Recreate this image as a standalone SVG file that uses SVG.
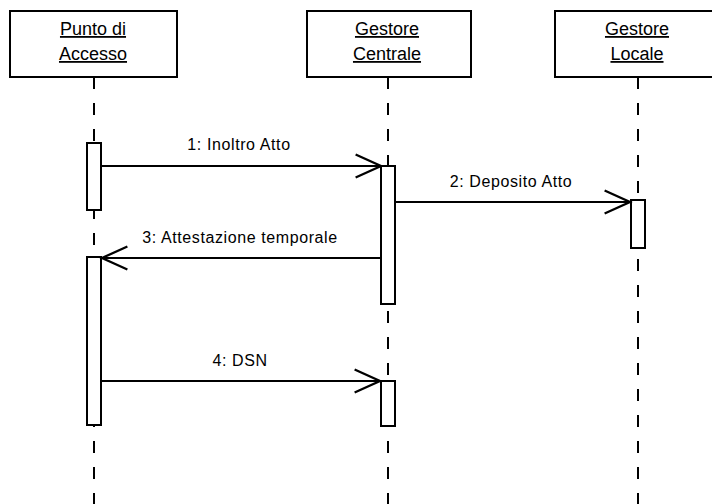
<svg xmlns="http://www.w3.org/2000/svg" width="712" height="504" viewBox="0 0 712 504">
  <style>
    .obj { fill: #fff; stroke: #000; stroke-width: 2; }
    .act { fill: #fff; stroke: #000; stroke-width: 2; }
    .life { stroke: #000; stroke-width: 2; stroke-dasharray: 12 14; fill: none; }
    .msg { stroke: #000; stroke-width: 2; fill: none; marker-end: url(#open); }
    .name { font-family: "Liberation Sans", Arial, sans-serif; font-size: 18px; text-anchor: middle; text-decoration: underline; fill: #000; }
    .lbl { font-family: "Liberation Sans", Arial, sans-serif; font-size: 16px; letter-spacing: 0.6px; text-anchor: middle; fill: #000; }
  </style>
  <defs>
    <marker id="open" markerUnits="userSpaceOnUse" markerWidth="30" markerHeight="30" viewBox="-24 -12 26 24" refX="0" refY="0" orient="auto" overflow="visible">
      <path d="M-22,-10 L0,0 L-22,10" fill="none" stroke="#000" stroke-width="2"/>
    </marker>
  </defs>
  <rect width="712" height="504" fill="#fff"/>

  <!-- lifelines -->
  <g id="lifelines">
    <line class="life" x1="94" y1="77" x2="94" y2="504"/>
    <line class="life" x1="388" y1="77" x2="388" y2="504"/>
    <line class="life" x1="638" y1="77" x2="638" y2="504"/>
  </g>

  <!-- participants -->
  <g id="punto-di-accesso">
    <rect class="obj" x="10" y="11" width="167" height="66"/>
    <text class="name" x="93" y="35">Punto di</text>
    <text class="name" x="93" y="60">Accesso</text>
    <rect class="act" x="87" y="143" width="14" height="67"/>
    <rect class="act" x="87" y="257" width="14" height="168"/>
  </g>
  <g id="gestore-centrale">
    <rect class="obj" x="307" y="11" width="164" height="66"/>
    <text class="name" x="387" y="35">Gestore</text>
    <text class="name" x="387" y="60">Centrale</text>
    <rect class="act" x="381" y="166" width="14" height="138"/>
    <rect class="act" x="381" y="381" width="14" height="45"/>
  </g>
  <g id="gestore-locale">
    <rect class="obj" x="555" y="11" width="166" height="66"/>
    <text class="name" x="637" y="35">Gestore</text>
    <text class="name" x="637" y="60">Locale</text>
    <rect class="act" x="631" y="200" width="14" height="48"/>
  </g>

  <!-- messages -->
  <g id="connectors">
    <line class="msg" x1="101" y1="166" x2="381" y2="166"/>
    <text class="lbl" x="239" y="150">1: Inoltro Atto</text>
    <line class="msg" x1="395" y1="202" x2="630" y2="202"/>
    <text class="lbl" x="511" y="187">2: Deposito Atto</text>
    <line class="msg" x1="381" y1="258" x2="102" y2="258"/>
    <text class="lbl" x="240" y="243">3: Attestazione temporale</text>
    <line class="msg" x1="101" y1="381" x2="380" y2="381"/>
    <text class="lbl" x="240" y="366">4: DSN</text>
  </g>
</svg>
